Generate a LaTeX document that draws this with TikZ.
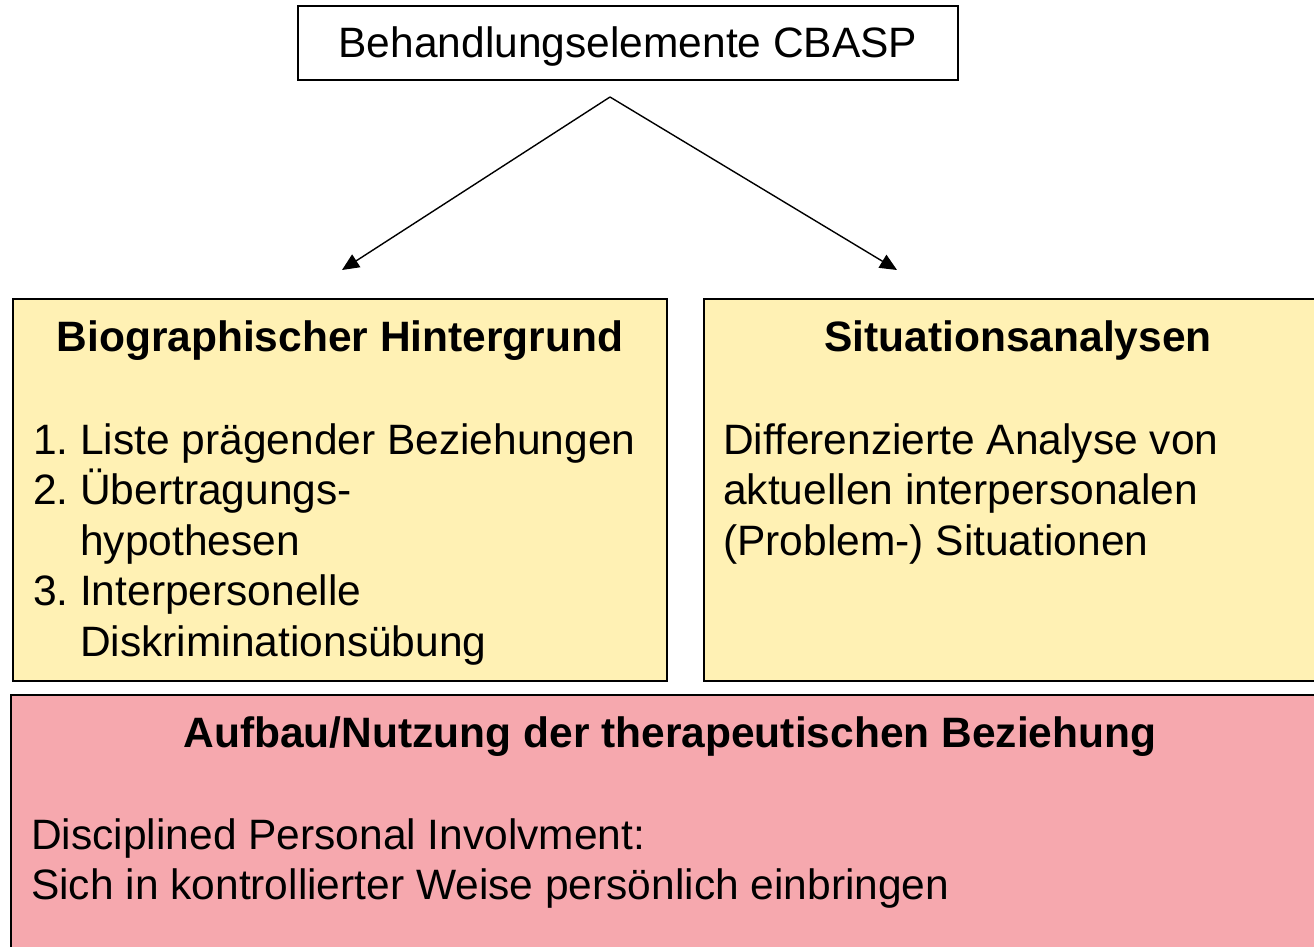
\documentclass[tikz,border=0pt]{standalone}
\usepackage{fontspec}
\setmainfont{Liberation Sans}
\usetikzlibrary{arrows.meta}
\definecolor{boxyellow}{RGB}{255,241,180}
\definecolor{boxpink}{RGB}{246,168,174}
\begin{document}
\begin{tikzpicture}[x=1pt,y=-1pt,
  txt/.style={inner sep=0pt, font=\fontsize{42.5}{50.5}\selectfont},
  ttl/.style={inner sep=0pt, font=\fontsize{42.5}{50.5}\selectfont\bfseries},
  frame/.style={draw=black, inner sep=0pt},
  conn/.style={line width=1.4pt, -{Triangle[length=17pt,width=15pt]}}]
\useasboundingbox (0,0) rectangle (1314,946);
\begin{scope}
\clip (0,0) rectangle (1314,946);
% top box
\node[frame, line width=1.5pt, fill=white, minimum width=660pt, minimum height=74pt] (topbox) at (628,43) {};
\node[txt, anchor=base] (toptxt) at (628,57) {Behandlungselemente CBASP};
% connectors
\coordinate (apex) at (610,97);
\coordinate (tipL) at (342,270);
\coordinate (tipR) at (897,270);
\draw[conn] (apex) -- (tipL);
\draw[conn] (apex) -- (tipR);
% left box
\node[frame, line width=1.5pt, fill=boxyellow, minimum width=654pt, minimum height=382pt] (leftbox) at (340,490) {};
\node[ttl, anchor=base] (lefttitle) at (340,351) {Biographischer Hintergrund};
\node[txt, anchor=base west] (leftlist) at (33,454) {\begin{tabular}[t]{@{}p{47pt}@{}l@{}}
1. & Liste prägender Beziehungen\\
2. & Übertragungs-\\
   & hypothesen\\
3. & Interpersonelle\\
   & Diskriminationsübung
\end{tabular}};
% right box
\node[frame, line width=1.5pt, fill=boxyellow, minimum width=628pt, minimum height=382pt] (rightbox) at (1018,490) {};
\node[ttl, anchor=base] (righttitle) at (1018,351) {Situationsanalysen};
\node[txt, anchor=base west] (righttxt) at (723,454) {\begin{tabular}[t]{@{}l@{}}
Differenzierte Analyse von\\
aktuellen interpersonalen\\
(Problem-) Situationen
\end{tabular}};
% bottom box
\node[frame, line width=2.5pt, fill=boxpink, minimum width=1318pt, minimum height=270pt] (botbox) at (670,830) {};
\node[ttl, anchor=base] (bottitle) at (670,747) {Aufbau/Nutzung der therapeutischen Beziehung};
\node[txt, anchor=base west] (bottxt) at (31,849) {\begin{tabular}[t]{@{}l@{}}
Disciplined Personal Involvment:\\
Sich in kontrollierter Weise persönlich einbringen
\end{tabular}};
\end{scope}
\end{tikzpicture}
\end{document}
